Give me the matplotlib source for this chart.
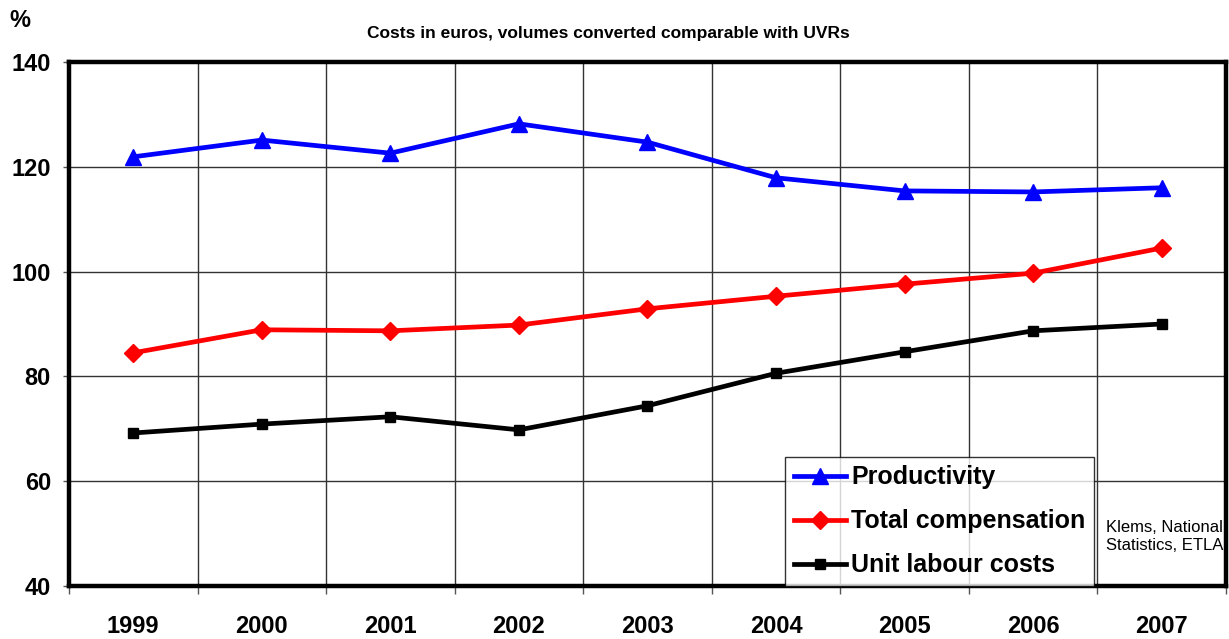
import matplotlib
matplotlib.use("Agg")
import matplotlib.pyplot as plt
from matplotlib.ticker import FixedLocator, MultipleLocator

plt.rcParams['font.family'] = ['Liberation Sans', 'DejaVu Sans']

years = ["1999", "2000", "2001", "2002", "2003", "2004", "2005", "2006", "2007"]
productivity = [121.9, 125.1, 122.6, 128.2, 124.7, 117.9, 115.4, 115.2, 116.0]
total_compensation = [84.5, 88.9, 88.7, 89.8, 92.9, 95.3, 97.6, 99.7, 104.5]
unit_labour_costs = [69.2, 70.9, 72.3, 69.8, 74.4, 80.6, 84.7, 88.7, 90.0]

fig = plt.figure(figsize=(12.29, 6.39), dpi=100)
ax = fig.add_axes([0.0561, 0.0829, 0.9415, 0.8201])

x = list(range(len(years)))
ax.plot(x, productivity, color="#0000ff", lw=3.4, marker="^", ms=11.5,
        label="Productivity", zorder=3)
ax.plot(x, total_compensation, color="#ff0000", lw=3.4, marker="D", ms=9,
        label="Total compensation", zorder=3)
ax.plot(x, unit_labour_costs, color="#000000", lw=3.4, marker="s", ms=7,
        label="Unit labour costs", zorder=3)

ax.set_xlim(-0.5, len(years) - 0.5)
ax.set_ylim(40, 140)
ax.yaxis.set_major_locator(MultipleLocator(20))
ax.set_xticks(x)
ax.set_xticklabels(years, fontsize=17, fontweight="bold")
ax.xaxis.set_minor_locator(FixedLocator([i - 0.5 for i in range(len(years) + 1)]))
ax.tick_params(axis="x", which="major", length=0, pad=21)
ax.tick_params(axis="x", which="minor", length=6, width=1, color="#555555", direction="out")
ax.tick_params(axis="y", which="major", length=4, width=1, color="#555555", pad=9,
               labelsize=17)
for lab in ax.get_yticklabels():
    lab.set_fontweight("bold")

ax.grid(True, axis="y", which="major", color="#333333", lw=1)
ax.grid(True, axis="x", which="minor", color="#333333", lw=1)
ax.set_axisbelow(True)
for sp in ax.spines.values():
    sp.set_linewidth(3.2)
    sp.set_color("black")

leg = ax.legend(loc="lower left", bbox_to_anchor=(0.619, 0.0), borderaxespad=0,
                frameon=True, fancybox=False, edgecolor="black",
                prop={"size": 18, "weight": "bold"}, handlelength=2.1,
                handletextpad=0.2, labelspacing=0.8, borderpad=0.35)
leg.get_frame().set_linewidth(1.0)
leg.set_zorder(5)

ax.text(0.896, 0.094, "Klems, National\nStatistics, ETLA", transform=ax.transAxes,
        fontsize=12, ha="left", va="center", linespacing=1.25)

fig.text(0.495, 0.948, "Costs in euros, volumes converted comparable with UVRs",
         fontsize=12.5, fontweight="bold", ha="center", va="center")
fig.text(0.008, 0.968, "%", fontsize=17, fontweight="bold", ha="left", va="center")

fig.savefig("out.png", dpi=100)
